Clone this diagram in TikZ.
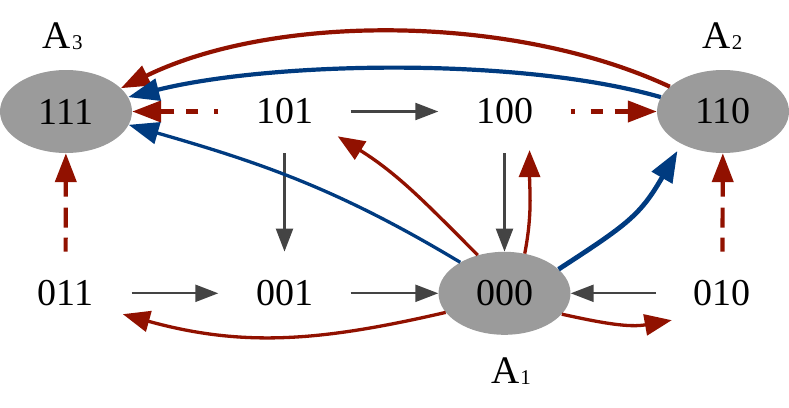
\documentclass[tikz,border=0pt]{standalone}
\usepackage{fontspec}
\setmainfont{Liberation Serif}
\usetikzlibrary{arrows.meta,shapes.geometric}
\definecolor{myred}{RGB}{145,17,0}
\definecolor{myblue}{RGB}{0,59,128}
\definecolor{mygray}{RGB}{68,68,68}
\definecolor{myfill}{RGB}{155,155,155}
\newcommand\mysub[1]{\kern1pt{\fontsize{21}{21}\selectfont\raisebox{-1pt}{#1}}}
\begin{document}
\begin{tikzpicture}[x=1pt,y=-1pt,
  state/.style={ellipse, minimum width=132pt, minimum height=83pt, inner sep=0pt,
    font=\fontsize{38}{38}\selectfont},
  absorb/.style={state, fill=myfill},
  lab/.style={inner sep=0pt, font=\fontsize{39}{39}\selectfont, anchor=base west},
  grayarr/.style={draw=mygray, line width=2.3pt, -{Triangle[length=23pt,width=17pt]}},
  redarr/.style={draw=myred, line width=3.3pt, -{Triangle[length=27pt,width=21pt]}},
  redbig/.style={draw=myred, line width=4.2pt, -{Triangle[length=29pt,width=21pt]}},
  bluearr/.style={draw=myblue, line width=3.3pt, -{Triangle[length=30pt,width=22pt]}},
  bluebig/.style={draw=myblue, line width=4.8pt, -{Triangle[length=31pt,width=23pt]}},
  hdash/.style={redbig, dash pattern=on 4pt off 16pt on 12pt off 12pt on 60pt},
  vdash/.style={redbig, dash pattern=on 14pt off 10pt on 20pt off 11pt on 60pt}
]
\useasboundingbox (0,0) rectangle (789,407);

% nodes
\node[absorb] (n111) at (66,111.5) {111};
\node[absorb] (n110) at (723,111.5) {110};
\node[absorb] (n000) at (504.5,293.3) {000};
\node[state] (n101) at (284.5,111.5) {101};
\node[state] (n100) at (504.5,111.5) {100};
\node[state] (n011) at (65.5,293.3) {011};
\node[state] (n001) at (284.5,293.3) {001};
\node[state] (n010) at (722.3,293.3) {010};

\node[lab] (a3) at (42.7,48.3) {A\mysub{3}};
\node[lab] (a2) at (702.4,48.3) {A\mysub{2}};
\node[lab] (a1) at (491,383.3) {A\mysub{1}};

% gray transitions
\draw[grayarr] (n101) -- (n100);
\draw[grayarr] (n101) -- (n001);
\draw[grayarr] (n100) -- (n000);
\draw[grayarr] (n011) -- (n001);
\draw[grayarr] (n001) -- (n000);
\draw[grayarr] (n010) -- (n000);

% red dashed
\draw[hdash] (n101) -- (n111);
\draw[hdash] (n100) -- (n110);
\draw[vdash] (n011) -- (n111);
\draw[vdash] (n010) -- (n110);

% top arcs
\draw[redbig] (n110.155) to[out=155, in=26, looseness=0.8] (n111.23);
\draw[draw=myblue, line width=4.2pt, -{Triangle[length=31pt,width=22pt]}]
  (n110.167) to[out=164, in=14, looseness=0.71] (n111.13);

% from 000
\draw[bluearr] (n000.145) to[out=149, in=-16] (n111.-12);
\draw[redarr] (n000.125) to[out=135, in=-32] (n101.-25);
\draw[redarr] (n000.63) to[out=79, in=-90] (n100.-57);
\draw[bluebig, shorten >=8pt] (n000.24) to[out=33, in=240, looseness=1.2] (n110.218);
\draw[redarr] (n000.198.6) to[out=193, in=-15.5] (n011.-20);
\draw[redarr] (n000.-20) to[out=-12.5, in=190] (n010.208);
\end{tikzpicture}
\end{document}
